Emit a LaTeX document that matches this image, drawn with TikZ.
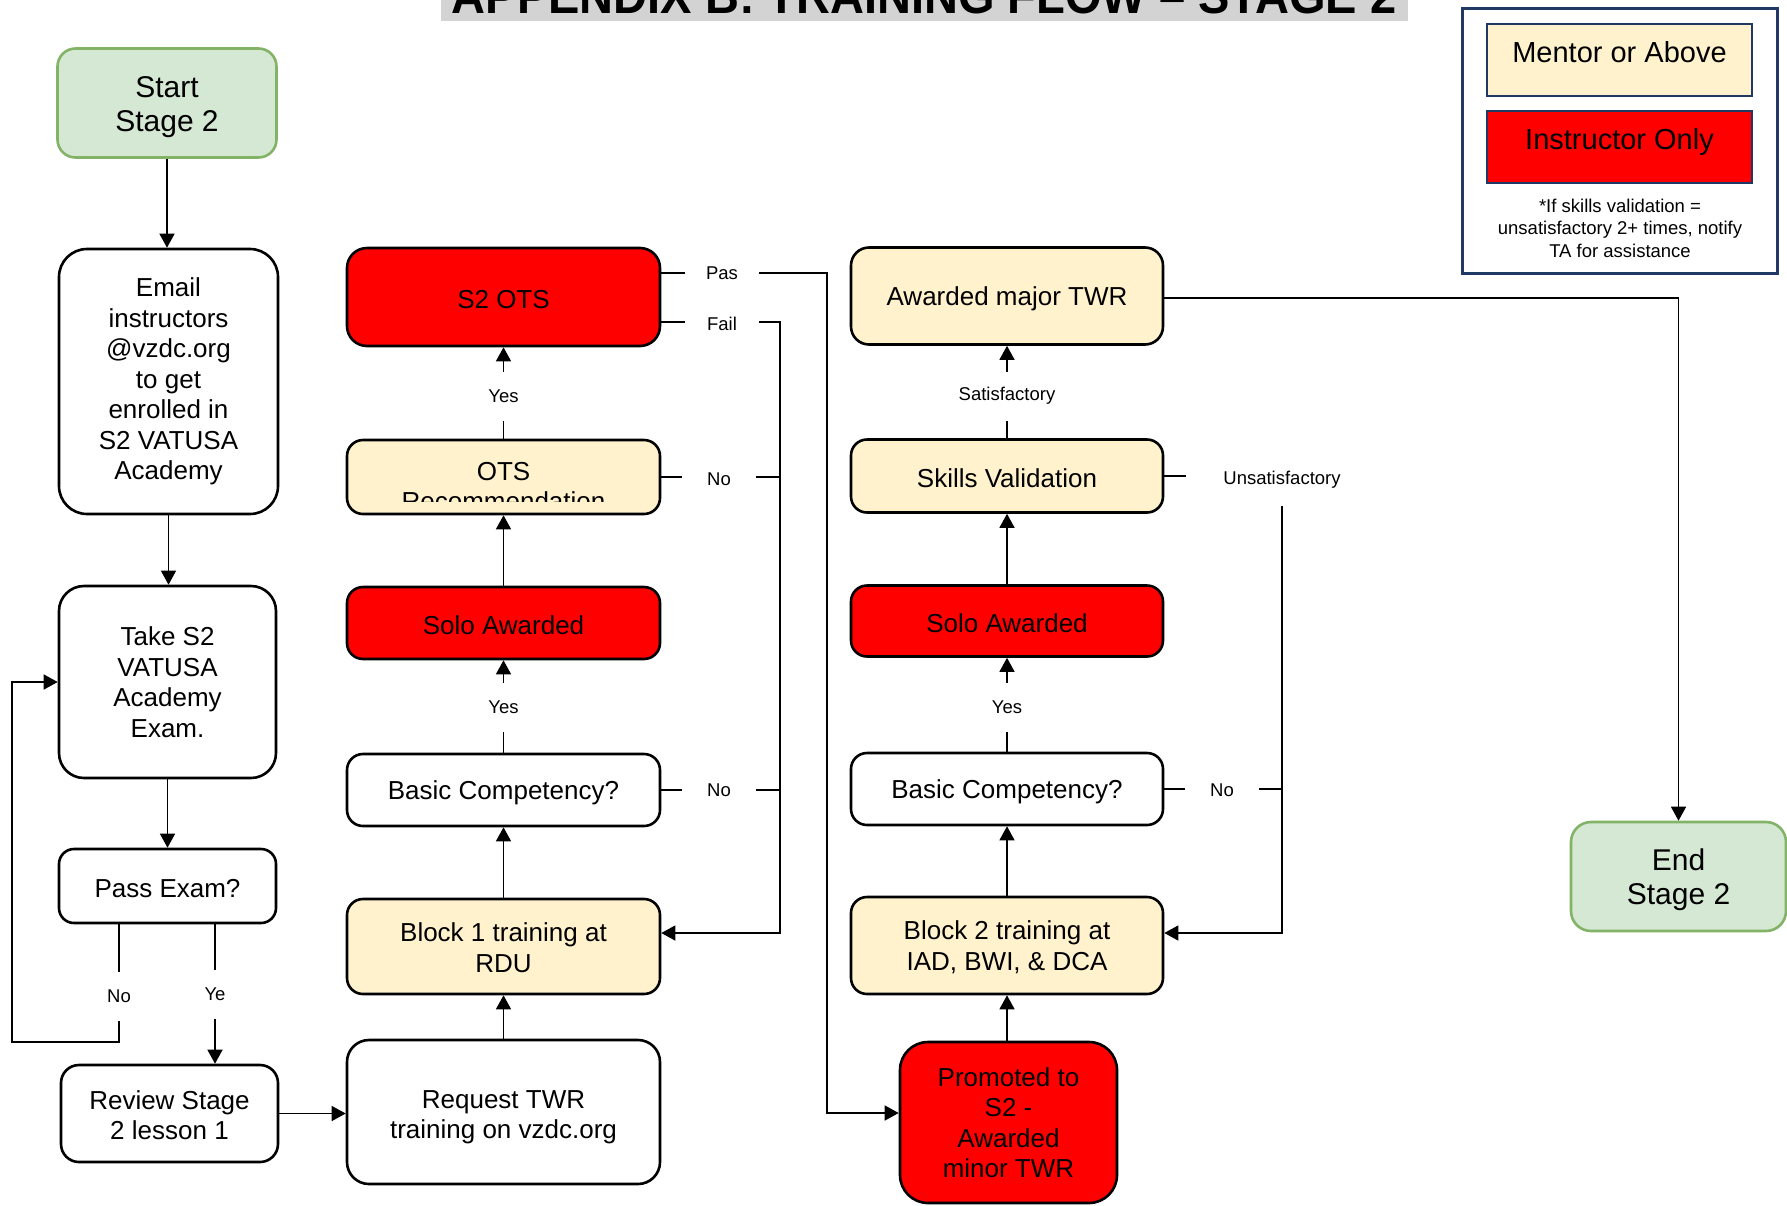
\documentclass[tikz,border=0pt]{standalone}
\usepackage{fontspec}
\setmainfont{Liberation Sans}
\usetikzlibrary{arrows.meta}
\definecolor{gfill}{HTML}{D5E8D4}
\definecolor{gdraw}{HTML}{82B366}
\definecolor{cream}{HTML}{FFF2CC}
\definecolor{redf}{HTML}{FF0000}
\definecolor{navy}{HTML}{203864}
\definecolor{titlebg}{HTML}{D3D3D3}
\newcommand\boxfont{\fontsize{26}{30.5}\selectfont}
\newcommand\termfont{\fontsize{30}{34}\selectfont}
\newcommand\lblfont{\fontsize{18.5}{22}\selectfont}
\newcommand\legfont{\fontsize{29}{33}\selectfont}
\newcommand\notefont{\fontsize{18.5}{22.5}\selectfont}
\tikzset{
  box/.style={draw=black, line width=2.6pt, rounded corners=16pt, align=center, font=\boxfont, inner sep=0pt,
    execute at begin node={\rule{0pt}{24pt}}},
  wbox/.style={box, fill=white},
  cbox/.style={box, fill=cream},
  rbox/.style={box, fill=redf},
  gbox/.style={box, fill=gfill, draw=gdraw, font=\termfont},
  conn/.style={line width=1.4pt, draw=black},
  arr/.style={conn, -{Triangle[length=14pt,width=15pt]}},
  lbl/.style={fill=white, font=\lblfont, inner sep=0pt, minimum width=74pt, minimum height=50pt},
  legbox/.style={draw=navy, line width=2.6pt, font=\legfont, inner sep=0pt, text height=16pt, text depth=12pt}
}
\begin{document}
\begin{tikzpicture}[x=1pt,y=-1pt]
\useasboundingbox (0,0) rectangle (1787,1205);
\clip (0,0) rectangle (1787,1205);

% title (cut off at the top)
\fill[titlebg] (441,-60) rectangle (1408,21);
\node[anchor=base, inner sep=0pt, font=\fontsize{50}{50}\selectfont\bfseries] (title) at (924,13) {\scalebox{0.94}[1]{APPENDIX B: TRAINING FLOW – STAGE 2}};

% legend
\node[draw=navy, line width=3pt, minimum width=315pt, minimum height=265pt, inner sep=0pt] (legend) at (1619.5,140.5) {};
\node[legbox, fill=cream, minimum width=265pt, minimum height=72pt] (legmentor) at (1619.5,60) {Mentor or Above};
\node[legbox, fill=redf, minimum width=265pt, minimum height=72pt] (leginstr) at (1619.5,147) {Instructor Only};
\node[align=center, font=\notefont, inner sep=0pt] (legnote) at (1620,228) {*If skills validation =\\unsatisfactory 2+ times, notify\\TA for assistance};

% column 1
\node[gbox, rounded corners=18pt, minimum width=219pt, minimum height=109pt] (start) at (167,103) {\rule{0pt}{29pt}Start\\Stage 2};
\node[wbox, rounded corners=28pt, minimum width=219pt, minimum height=265pt] (email) at (168.5,381.5) {Email\\instructors\\@vzdc.org\\to get\\enrolled in\\S2 VATUSA\\Academy};
\node[wbox, rounded corners=25pt, minimum width=217pt, minimum height=192pt] (take) at (167.5,682) {Take S2\\VATUSA\\Academy\\Exam.};
\node[wbox, rounded corners=15pt, minimum width=217pt, minimum height=74pt] (pass) at (167.5,886) {Pass Exam?};
\node[wbox, rounded corners=18pt, minimum width=217pt, minimum height=97pt] (review) at (169.5,1113.5) {\rule{0pt}{22pt}Review Stage\\2 lesson 1};

% column 2
\node[rbox, rounded corners=20pt, minimum width=313pt, minimum height=98pt] (s2ots) at (503.5,297) {S2 OTS};
\node[cbox, minimum width=313pt, minimum height=74pt] (otsrec) at (503.5,477) {};
\begin{scope}
  \clip (348,441) rectangle (659,501);
  \node[anchor=base, font=\boxfont, inner sep=0pt] (otsrecA) at (503.5,480) {OTS};
  \node[anchor=base, font=\boxfont, inner sep=0pt] (otsrecB) at (503.5,510) {Recommendation};
\end{scope}
\node[rbox, minimum width=313pt, minimum height=72pt] (solo1) at (503.5,623) {Solo Awarded};
\node[wbox, minimum width=313pt, minimum height=72pt] (basic1) at (503.5,790) {Basic Competency?};
\node[cbox, minimum width=313pt, minimum height=95pt] (block1) at (503.5,946.5) {\rule{0pt}{21pt}Block 1 training at\\RDU};
\node[wbox, rounded corners=22pt, minimum width=313pt, minimum height=144pt] (request) at (503.5,1112) {\rule{0pt}{28pt}Request TWR\\training on vzdc.org};

% column 3
\node[cbox, rounded corners=18pt, minimum width=312pt, minimum height=97pt] (awarded) at (1007,296) {Awarded major TWR};
\node[cbox, minimum width=312pt, minimum height=73pt] (skills) at (1007,476) {Skills Validation};
\node[rbox, minimum width=312pt, minimum height=71pt] (solo2) at (1007,621) {Solo Awarded};
\node[wbox, minimum width=312pt, minimum height=72pt] (basic2) at (1007,789) {Basic Competency?};
\node[cbox, minimum width=312pt, minimum height=97pt] (block2) at (1007,945.5) {\rule{0pt}{22pt}Block 2 training at\\IAD, BWI, \& DCA};
\node[rbox, rounded corners=28pt, minimum width=217pt, minimum height=161pt] (promoted) at (1008.5,1122.5) {Promoted to\\S2 -\\Awarded\\minor TWR};

% end
\node[gbox, rounded corners=20pt, minimum width=215pt, minimum height=109pt] (end) at (1678.5,876.5) {\rule{0pt}{29pt}End\\Stage 2};

% connectors column 1
\draw[arr] (start.south) -- (start.south |- email.north);
\draw[arr] (email.south) -- (email.south |- take.north);
\draw[arr] (take.south) -- (take.south |- pass.north);
\draw[arr] ([xshift=-48.5pt]pass.south) |- (12,1042) |- (take.west);
\draw[arr] ([xshift=47.5pt]pass.south) -- ([xshift=47.5pt]pass.south |- review.north);
\draw[arr] (review.east) -- (review.east -| request.west);

% connectors column 2
\draw[arr] (request.north) -- (block1.south);
\draw[arr] (block1.north) -- (basic1.south);
\draw[arr] (basic1.north) -- (solo1.south);
\draw[arr] (solo1.north) -- (otsrec.south);
\draw[arr] (otsrec.north) -- (s2ots.south);
\draw[arr] ([yshift=24pt]s2ots.east) -- (827,273) -- (827,1113) -- ([yshift=9.5pt]promoted.west);
\draw[arr] ([yshift=-25pt]s2ots.east) -- (780,322) -- (780,933) -- ([yshift=13.5pt]block1.east);
\draw[conn] (otsrec.east) -- (780,477);
\draw[conn] (basic1.east) -- (780,790);

% connectors column 3
\draw[arr] (promoted.north -| block2.south) -- (block2.south);
\draw[arr] (block2.north) -- (basic2.south);
\draw[arr] (basic2.north) -- (solo2.south);
\draw[arr] (solo2.north) -- (skills.south);
\draw[arr] (skills.north) -- (awarded.south);
\draw[arr] (skills.east) -- (1282,476) -- (1282,933) -- ([yshift=12.5pt]block2.east);
\draw[conn] (basic2.east) -- (1282,789);
\draw[arr] ([yshift=-2pt]awarded.east) -| (end.north);

% labels
\node[lbl, minimum width=40pt, minimum height=49pt] (lno0) at (119,996) {No};
\node[lbl, minimum width=40pt, minimum height=49pt] (lye0) at (215,994) {Ye};
\node[lbl] (lpas) at (722,273) {Pas};
\node[lbl] (lfail) at (722,324) {Fail};
\node[lbl] (lno1) at (719,479) {No};
\node[lbl] (lno2) at (719,790) {No};
\node[lbl, minimum height=49pt] (lyes1) at (503.5,396) {Yes};
\node[lbl, minimum height=49pt] (lyes2) at (503.5,707) {Yes};
\node[lbl, minimum height=49pt, minimum width=110pt] (lsat) at (1007,396) {Satisfactory};
\node[lbl, minimum height=49pt] (lyes3) at (1007,707) {Yes};
\node[lbl, minimum width=192pt, minimum height=52pt] (lunsat) at (1282,480) {Unsatisfactory};
\node[lbl] (lno3) at (1222,790) {No};
\end{tikzpicture}
\end{document}
